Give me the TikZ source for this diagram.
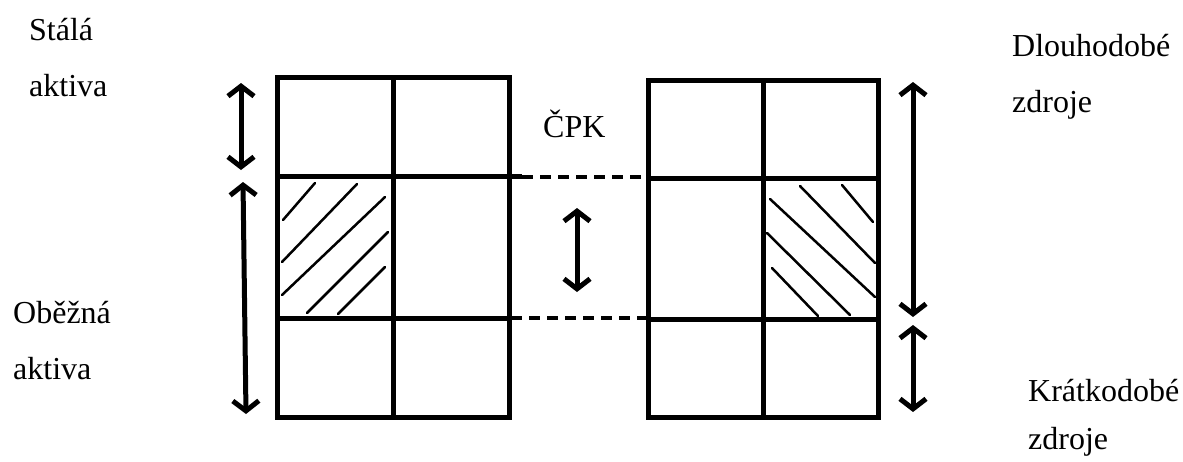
\documentclass[tikz,border=0pt]{standalone}
\usepackage{fontspec}
\setmainfont{Liberation Serif}
\usetikzlibrary{arrows.meta}
\begin{document}
\begin{tikzpicture}[x=1pt,y=-1pt,
  boxline/.style={line width=5pt},
  hatchline/.style={line width=2.5pt,line cap=round},
  dashline/.style={line width=3.5pt,dash pattern=on 11pt off 7pt},
  dim/.style={line width=5pt,{Straight Barb[length=10pt,width=26pt,line width=5pt]}-{Straight Barb[length=10pt,width=26pt,line width=5pt]}},
  lbl/.style={anchor=base west,inner sep=0pt,font=\fontsize{32}{38}\selectfont}]
\useasboundingbox (0,0) rectangle (1183,461);
% left box (assets)
\draw[boxline] (277,77) rectangle (509,417);
\draw[boxline] (393,77) -- (393,417);
\draw[boxline] (277,176) -- (522,176);
\draw[boxline] (277,318) -- (509,318);
% right box (sources)
\draw[boxline] (648,80) rectangle (878,417);
\draw[boxline] (763,80) -- (763,417);
\draw[boxline] (648,178) -- (878,178);
\draw[boxline] (648,319) -- (878,319);
% dashed links
\coordinate (d1a) at (522,177);
\coordinate (d1b) at (646,177);
\coordinate (d2a) at (511,318);
\coordinate (d2b) at (646,318);
\draw[dashline] (d1a) -- (d1b);
\draw[dashline] (d2a) -- (d2b);
% hatching left
\draw[hatchline] (283,220) -- (315,183);
\draw[hatchline] (282,262) -- (357,184);
\draw[hatchline] (282,295) -- (385,197);
\draw[hatchline] (307,313) -- (388,232);
\draw[hatchline] (338,314) -- (385,267);
% hatching right
\draw[hatchline] (842,185) -- (873,222);
\draw[hatchline] (800,186) -- (875,263);
\draw[hatchline] (770,199) -- (875,297);
\draw[hatchline] (767,233) -- (850,315);
\draw[hatchline] (772,268) -- (818,316);
% dimension arrows
\coordinate (a1t) at (241,83);  \coordinate (a1b) at (241,170);
\coordinate (a2t) at (243,182); \coordinate (a2b) at (246,414);
\coordinate (a3t) at (577,208); \coordinate (a3b) at (577,292);
\coordinate (a4t) at (913,82);  \coordinate (a4b) at (913,317);
\coordinate (a5t) at (913,325); \coordinate (a5b) at (913,412);
\draw[dim] (a1t) -- (a1b);
\draw[dim] (a2t) -- (a2b);
\draw[dim] (a3t) -- (a3b);
\draw[dim] (a4t) -- (a4b);
\draw[dim] (a5t) -- (a5b);
% labels
\node[lbl] (sa1) at (29,40) {Stálá};
\node[lbl] (sa2) at (29,96) {aktiva};
\node[lbl] (oa1) at (13,323) {Oběžná};
\node[lbl] (oa2) at (13,379) {aktiva};
\node[lbl] (dz1) at (1012,56) {Dlouhodobé};
\node[lbl] (dz2) at (1012,112) {zdroje};
\node[lbl] (kz1) at (1028,401) {Krátkodobé};
\node[lbl] (kz2) at (1028,449) {zdroje};
\node[lbl] (cpk) at (543,137) {ČPK};
\end{tikzpicture}
\end{document}
